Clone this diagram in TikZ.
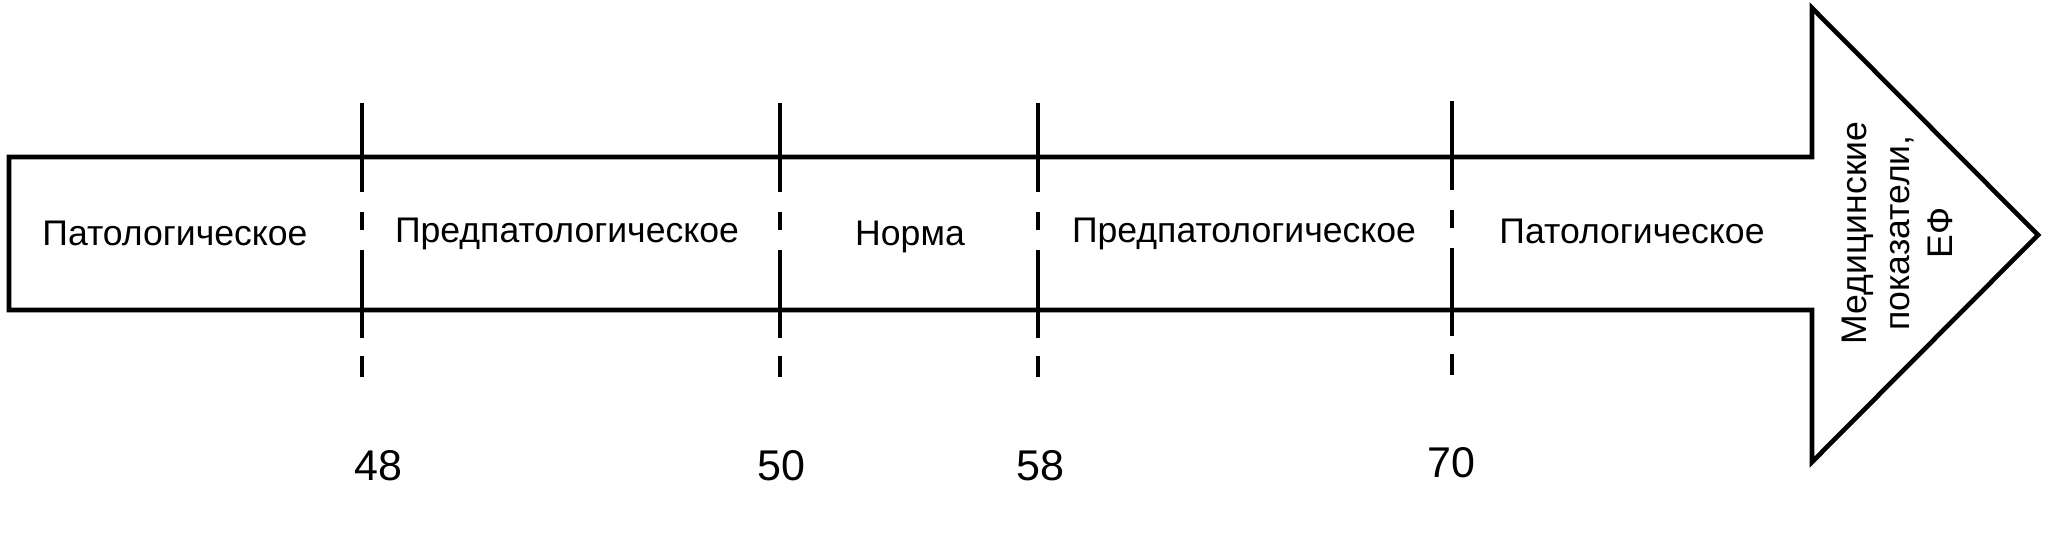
\documentclass[tikz,border=0pt]{standalone}
\usepackage{fontspec}
\setmainfont{Liberation Sans}

\begin{document}
\begin{tikzpicture}[x=0.5pt, y=-0.5pt, line width=2.3pt,
    zone/.style={font=\fontsize{17.8}{21.5}\selectfont, inner sep=0pt, anchor=base},
    value/.style={font=\fontsize{21.5}{25}\selectfont, inner sep=0pt, anchor=base},
    divline/.style={dash pattern=on 44.5pt off 10pt on 9pt off 10pt on 44pt off 9pt on 10.5pt}]
    \useasboundingbox (0,0) rectangle (2048,542);
    \draw (9,157) -- (1812,157) -- (1812,8) -- (2038,235) -- (1812,462) -- (1812,310) -- (9,310) -- cycle;
    \draw[divline] (362,103) -- (362,377);
    \draw[divline] (780,103) -- (780,377);
    \draw[divline] (1038,103) -- (1038,377);
    \draw[divline] (1452,101) -- (1452,375);
    \node[zone] (pat1) at (175,245) {Патологическое};
    \node[zone] (pred1) at (567,242) {Предпатологическое};
    \node[zone] (norm) at (910,245) {Норма};
    \node[zone] (pred2) at (1244,242) {Предпатологическое};
    \node[zone] (pat2) at (1632,243) {Патологическое};
    \node[zone, anchor=center, rotate=90, align=center] (ef) at (1897,233) {Медицинские\\показатели,\\ЕФ};
    \node[value] (v48) at (378,480) {48};
    \node[value] (v50) at (781,480) {50};
    \node[value] (v58) at (1040,480) {58};
    \node[value] (v70) at (1451,477) {70};
\end{tikzpicture}
\end{document}
